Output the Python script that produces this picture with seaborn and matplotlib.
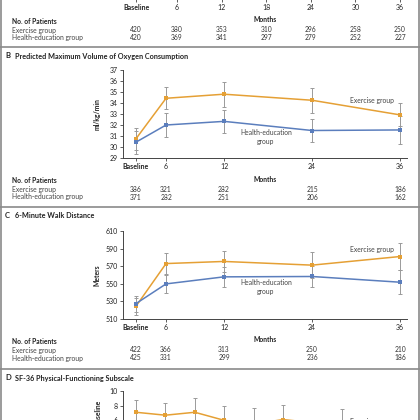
import matplotlib
matplotlib.use("Agg")
import matplotlib.pyplot as plt
import matplotlib.transforms as mtransforms
from matplotlib.lines import Line2D
import seaborn as sns
import pandas as pd

# --- datos ---
a_ticks = ["Baseline", "6", "12", "18", "24", "30", "36"]
a_n_exercise = [420, 380, 353, 310, 296, 258, 250]
a_n_health = [420, 369, 341, 297, 279, 252, 227]

bc_ticks = ["Baseline", "6", "12", "24", "36"]

b_exercise = [30.75, 34.43, 34.8, 34.25, 32.92]
b_exercise_err = [1.0, 1.0, 1.15, 1.15, 1.05]
b_health = [30.44, 32.0, 32.33, 31.5, 31.55]
b_health_err = [1.05, 1.05, 1.05, 1.05, 1.3]
b_n_exercise = [386, 321, 282, 215, 186]
b_n_health = [371, 282, 251, 206, 162]

c_exercise = [524.5, 573.0, 575.4, 571.2, 581.0]
c_exercise_err = [9.5, 11.5, 11.8, 14.5, 15.5]
c_health = [527.5, 549.9, 557.9, 558.3, 551.8]
c_health_err = [9.1, 10.5, 11.5, 11.8, 13.7]
c_n_exercise = [422, 366, 313, 250, 210]
c_n_health = [425, 331, 299, 236, 186]

d_months = [6, 12, 18, 24, 30, 36, 48]
d_exercise = [7.1, 6.7, 7.1, 6.0, 5.5, 6.1, 5.3]
d_exercise_err = [1.7, 1.7, 1.9, 2.0, 2.2, 2.0, 2.3]

# --- estilo ---
ORANGE = "#E5A035"
BLUE = "#5B7EBD"
GREY = "#9a9a9a"
TXT = "#222222"
FRAME = "#8a8a8a"
FS = 4.9
FS_TICK = 5.0
FS_TITLE = 5.2

sns.set_theme(style="ticks")
plt.rcParams["font.family"] = ["Lato", "DejaVu Sans"]

W = H = 420
fig = plt.figure(figsize=(4.2, 4.2), dpi=100)
fig.patch.set_facecolor("white")


def fx(x):
    return x / W


def fy(y):
    return 1 - y / H


def axes_px(left, top, right, bottom):
    return fig.add_axes([fx(left), fy(bottom), (right - left) / W, (bottom - top) / H])


# posiciones horizontales (maquetacion, no datos)
pos_a = [0.5, 6, 12, 18, 24, 30, 36]
pos_bc = [0, 4.1, 12, 24, 36]
XLIM_BC = (-1.77, 36.95)
XLIM_A = (-1.27, 36.94)


def style_axes(ax):
    sns.despine(ax=ax)
    for s in ("left", "bottom"):
        ax.spines[s].set_linewidth(0.7)
        ax.spines[s].set_color("#444444")
    ax.tick_params(axis="both", direction="out", length=2.5, width=0.6,
                   color="#444444", labelsize=FS_TICK, labelcolor=TXT, pad=1.2)
    ax.set_facecolor("none")
    ax.set_xlabel("")
    ax.set_ylabel("")


def set_month_ticks(ax, pos, labels):
    ax.set_xticks(pos)
    ax.set_xticklabels(labels)
    for t in ax.get_xticklabels():
        if t.get_text() == "Baseline":
            t.set_fontweight("bold")


def draw_table(ax, pos, n_ex, n_he, y_head, y_ex, y_he):
    tr = mtransforms.blended_transform_factory(ax.transData, fig.transFigure)
    tr_mid = mtransforms.blended_transform_factory(ax.transAxes, fig.transFigure)
    fig.text(fx(12), fy(y_head), "No. of Patients", fontsize=FS, fontweight="bold",
             color=TXT, va="center")
    ax.text(0.5, fy(y_head - 1.5), "Months", transform=tr_mid, fontsize=FS,
            fontweight="bold", color=TXT, ha="center", va="center")
    fig.text(fx(12), fy(y_ex), "Exercise group", fontsize=FS, color="#444444", va="center")
    fig.text(fx(12), fy(y_he), "Health-education group", fontsize=FS, color="#444444", va="center")
    for p, a, b in zip(pos, n_ex, n_he):
        ax.text(p, fy(y_ex), str(a), transform=tr, fontsize=FS, color="#333333",
                ha="center", va="center")
        ax.text(p, fy(y_he), str(b), transform=tr, fontsize=FS, color="#333333",
                ha="center", va="center")


def draw_series(ax, pos, ex, ex_err, he, he_err):
    n = len(pos)
    df = pd.DataFrame({
        "pos": list(pos) * 2,
        "value": list(ex) + list(he),
        "group": ["Exercise group"] * n + ["Health-education group"] * n,
    })
    ax.errorbar(pos, ex, yerr=ex_err, fmt="none", ecolor=GREY, elinewidth=0.7,
                capsize=1.4, capthick=0.7, zorder=1)
    ax.errorbar(pos, he, yerr=he_err, fmt="none", ecolor=GREY, elinewidth=0.7,
                capsize=1.4, capthick=0.7, zorder=1)
    sns.lineplot(data=df, x="pos", y="value", hue="group",
                 palette={"Exercise group": ORANGE, "Health-education group": BLUE},
                 marker="s", markersize=3.2, markeredgewidth=0, linewidth=1.1,
                 errorbar=None, legend=False, ax=ax, zorder=3)


def panel_title(y, letter, text):
    fig.text(fx(5), fy(y), letter, fontsize=FS_TITLE + 0.3, fontweight="bold", color=TXT, va="center")
    fig.text(fx(15), fy(y), text, fontsize=FS_TITLE, fontweight="bold", color=TXT, va="center")


# --- marco y separadores ---
for x in (1, 419):
    fig.add_artist(Line2D([fx(x), fx(x)], [0, 1], transform=fig.transFigure,
                          color=FRAME, linewidth=1.2))
for y in (47, 207, 369):
    fig.add_artist(Line2D([0, 1], [fy(y), fy(y)], transform=fig.transFigure,
                          color=FRAME, linewidth=1.2))

# --- Panel A (solo la parte inferior) ---
ax_a = axes_px(123, -90, 407, -1.3)
ax_a.set_xlim(*XLIM_A)
style_axes(ax_a)
ax_a.spines["left"].set_visible(False)
ax_a.set_yticks([])
set_month_ticks(ax_a, pos_a, a_ticks)
draw_table(ax_a, pos_a, a_n_exercise, a_n_health, 21, 30, 37.7)

# --- Panel B ---
panel_title(56, "B", "Predicted Maximum Volume of Oxygen Consumption")
ax_b = axes_px(123, 70, 407, 158)
draw_series(ax_b, pos_bc, b_exercise, b_exercise_err, b_health, b_health_err)
ax_b.set_xlim(*XLIM_BC)
ax_b.set_ylim(29, 37)
ax_b.set_yticks(range(29, 38))
style_axes(ax_b)
set_month_ticks(ax_b, pos_bc, bc_ticks)
fig.text(fx(97), fy(114), "ml/kg/min", rotation=90, fontsize=FS, fontweight="bold",
         color=TXT, ha="center", va="center")
ax_b.text(32.2, 34.2, "Exercise group", fontsize=FS, color="#444444", ha="center", va="center")
ax_b.text(17.7, 30.9, "Health-education\ngroup", fontsize=FS, color="#444444",
          ha="center", va="center", linespacing=1.3)
draw_table(ax_b, pos_bc, b_n_exercise, b_n_health, 180.5, 189.3, 197)

# --- Panel C ---
panel_title(216, "C", "6-Minute Walk Distance")
ax_c = axes_px(123, 231, 407, 319)
draw_series(ax_c, pos_bc, c_exercise, c_exercise_err, c_health, c_health_err)
ax_c.set_xlim(*XLIM_BC)
ax_c.set_ylim(510, 610)
ax_c.set_yticks(range(510, 611, 20))
style_axes(ax_c)
set_month_ticks(ax_c, pos_bc, bc_ticks)
fig.text(fx(97), fy(275), "Meters", rotation=90, fontsize=FS, fontweight="bold",
         color=TXT, ha="center", va="center")
ax_c.text(32.2, 589.5, "Exercise group", fontsize=FS, color="#444444", ha="center", va="center")
ax_c.text(17.7, 546.5, "Health-education\ngroup", fontsize=FS, color="#444444",
          ha="center", va="center", linespacing=1.3)
draw_table(ax_c, pos_bc, c_n_exercise, c_n_health, 341, 350, 358)

# --- Panel D (solo la parte superior) ---
panel_title(378, "D", "SF-36 Physical-Functioning Subscale")
ax_d = axes_px(123, 391, 407, 479)
ax_d.errorbar(d_months, d_exercise, yerr=d_exercise_err, fmt="none", ecolor=GREY,
              elinewidth=0.7, capsize=1.4, capthick=0.7, zorder=1)
sns.lineplot(x=d_months, y=d_exercise, color=ORANGE, marker="s", markersize=3.2,
             markeredgewidth=0, linewidth=1.1, errorbar=None, ax=ax_d, zorder=3)
ax_d.set_xlim(3.35, 61.3)
ax_d.set_ylim(-2, 10)
ax_d.set_yticks(range(-2, 11, 2))
style_axes(ax_d)
ax_d.set_xticks([])
ax_d.text(54.2, 5.9, "Exercise group", fontsize=FS, color="#444444", ha="center", va="center")
fig.text(fx(99), fy(400.5), "Change from Baseline", rotation=90, fontsize=FS,
         fontweight="bold", color=TXT, ha="center", va="top")

fig.savefig("out.png", dpi=100, facecolor="white")
